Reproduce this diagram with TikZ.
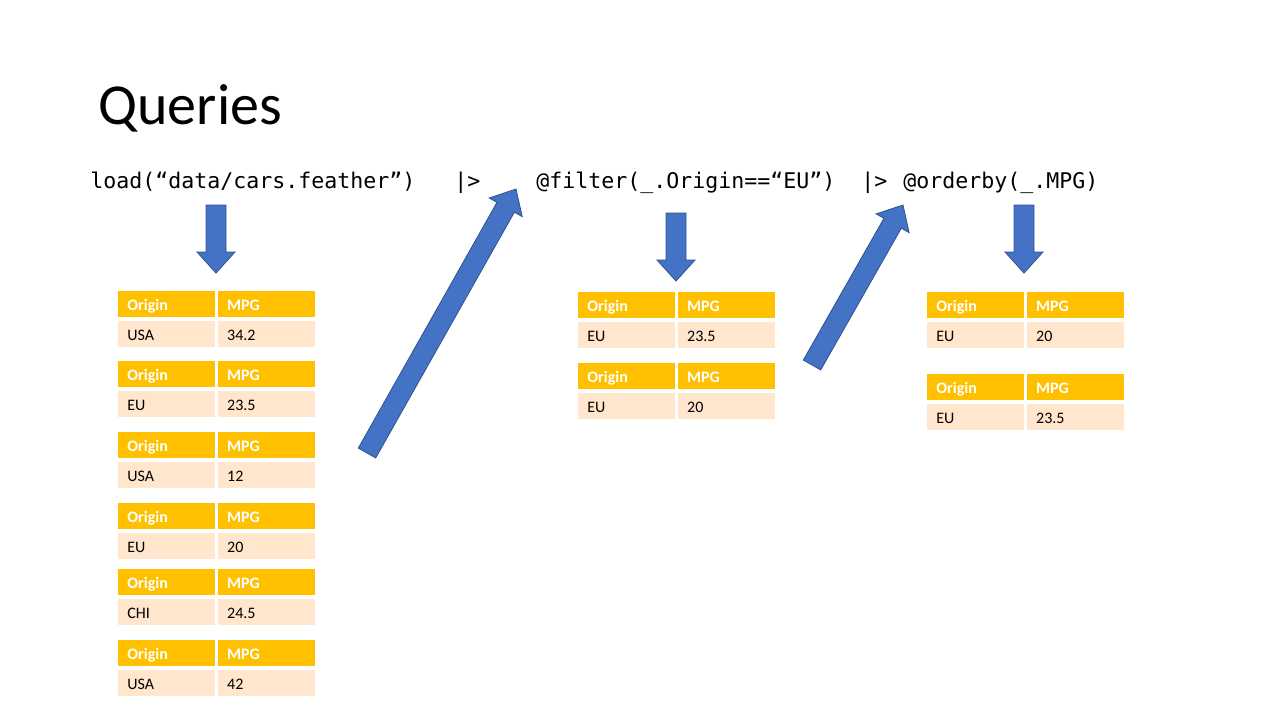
\documentclass[tikz,border=0pt]{standalone}
\usepackage{fontspec}
\setmainfont{Carlito}
\newfontfamily\codefont{DejaVu Sans Mono}
\usetikzlibrary{positioning, calc}

\definecolor{hdrorange}{HTML}{FFC000}
\definecolor{rowpeach}{HTML}{FFE6CC}
\definecolor{arrowblue}{HTML}{4472C4}
\definecolor{arrowedge}{HTML}{2F528F}

\tikzset{
  hcell/.style={fill=hdrorange, text=white, font=\fontsize{8}{9}\selectfont\bfseries, minimum height=13pt, text width=39.5pt, text height=7pt, text depth=1pt, inner xsep=4.5pt, inner ysep=0pt, align=left, anchor=north west},
  dcell/.style={hcell, fill=rowpeach, text=black, font=\fontsize{8}{9}\selectfont},
  code/.style={font=\codefont\fontsize{10.8}{13}\selectfont, anchor=base west, inner sep=0pt},
  bluearrow/.style={fill=arrowblue, draw=arrowedge, line width=0.4pt}
}

% one small table: name, x, y (top), origin, mpg
\newcommand{\cartable}[5]{%
  \node (#1o) [hcell] at (#2,#3) {Origin};
  \node (#1m) [hcell, right=1pt of #1o] {MPG};
  \node (#1a) [dcell, below=1.5pt of #1o] {#4};
  \node (#1b) [dcell, right=1pt of #1a] {#5};
}

% block arrow from tail to tip
\newcommand{\bigarrow}[2]{%
  \coordinate (h) at ($(#2)!10.5pt!(#1)$);
  \path[bluearrow] ($(#1)!5pt!90:(#2)$) -- ($(h)!5pt!90:(#2)$) -- ($(h)!9.5pt!90:(#2)$) -- (#2)
    -- ($(h)!9.5pt!-90:(#2)$) -- ($(h)!5pt!-90:(#2)$) -- ($(#1)!5pt!-90:(#2)$) -- cycle;
}

\begin{document}
\begin{tikzpicture}[x=0.5pt, y=-0.5pt]
    \useasboundingbox (0,0) rectangle (1280,720);

    \node (title) [font=\fontsize{29}{35}\selectfont, anchor=base west, inner sep=0pt] at (98,124) {Queries};

    \node (load) [code] at (90,188) {load(“data/cars.feather”)};
    \node (pipeA) [code] at (454,188) {|>};
    \node (filter) [code] at (536,188) {@filter(\_.Origin==“EU”)};
    \node (pipeB) [code] at (861,188) {|>};
    \node (orderby) [code] at (903,188) {@orderby(\_.MPG)};

    % source rows
    \foreach \y/\o/\m [count=\i] in {291/USA/34.2, 361/EU/23.5, 432/USA/12, 503/EU/20, 569/CHI/24.5, 640/USA/42}
        {\cartable{L\i}{118}{\y}{\o}{\m}}
    % after filter
    \cartable{F1}{578}{292}{EU}{23.5}
    \cartable{F2}{578}{363}{EU}{20}
    % after orderby
    \cartable{R1}{927}{292}{EU}{20}
    \cartable{R2}{927}{374}{EU}{23.5}

    \coordinate (d1s) at (216,205);  \coordinate (d1e) at (216,273);
    \coordinate (d2s) at (676,213);  \coordinate (d2e) at (676,281);
    \coordinate (d3s) at (1024,205); \coordinate (d3e) at (1024,273);
    \coordinate (u1s) at (367,453);  \coordinate (u1e) at (516,189);
    \coordinate (u2s) at (812,365);  \coordinate (u2e) at (903,205);

    \bigarrow{d1s}{d1e}
    \bigarrow{d2s}{d2e}
    \bigarrow{d3s}{d3e}
    \bigarrow{u1s}{u1e}
    \bigarrow{u2s}{u2e}
\end{tikzpicture}
\end{document}
